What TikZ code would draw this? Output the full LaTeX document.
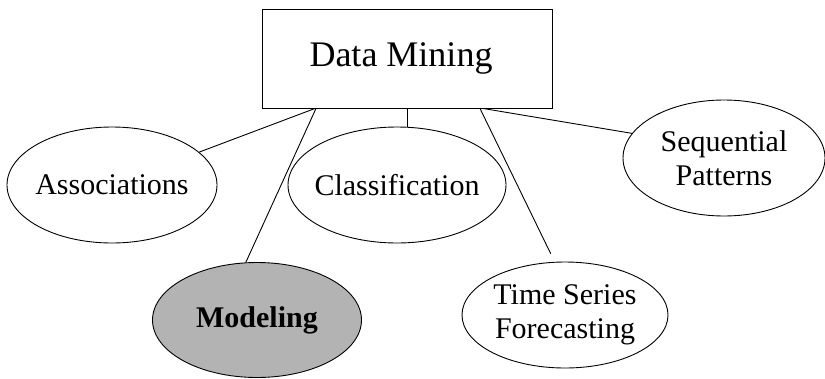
\documentclass[tikz,border=0pt]{standalone}
\usepackage{fontspec}
\setmainfont{Liberation Serif}
\usetikzlibrary{shapes.geometric,calc}
\definecolor{modelgray}{RGB}{179,179,179}
\begin{document}
\begin{tikzpicture}[x=1pt,y=-1pt,
  lbl/.style={font=\fontsize{30}{34}\selectfont, align=center},
  oval/.style={ellipse, draw, line width=0.9pt, inner xsep=-60pt, inner ysep=-35pt, lbl},
  conn/.style={draw, line width=0.9pt},
  boxstyle/.style={draw, line width=0.9pt, inner sep=0pt, minimum width=290pt, minimum height=99pt}]
\useasboundingbox (0,0) rectangle (825,378);
\node[boxstyle] (dm) at (407,58.5) {};
\node[font=\fontsize{36}{40}\selectfont, inner sep=0pt] (dmlabel) at (401,58.5) {Data Mining};
\node[oval, minimum width=210pt, minimum height=116pt] (assoc) at (112,185) {Associations};
\node[oval, minimum width=218pt, minimum height=116pt] (class) at (397,185) {Classification};
\node[oval, minimum width=202pt, minimum height=116pt] (seq) at (724,158) {Sequential\\Patterns};
\node[oval, fill=modelgray, minimum width=209pt, minimum height=115pt, font=\fontsize{30}{34}\selectfont\bfseries] (model) at (257,320) {Modeling};
\node[oval, minimum width=206pt, minimum height=106pt] (ts) at (565,315) {\raisebox{-6pt}{Time Series}\\\raisebox{-6pt}{Forecasting}};
\draw[conn] ($(dm.south)+(-92,0)$) -- (assoc);
\draw[conn] ($(dm.south)+(-91,0)$) -- (model.101.7);
\draw[conn] (dm.south) -- (dm.south |- class.north);
\draw[conn, shorten >=9pt] ($(dm.south)+(73,0)$) -- (ts.101.8);
\draw[conn] ($(dm.south)+(76,0)$) -- (seq.165.4);
\end{tikzpicture}
\end{document}
